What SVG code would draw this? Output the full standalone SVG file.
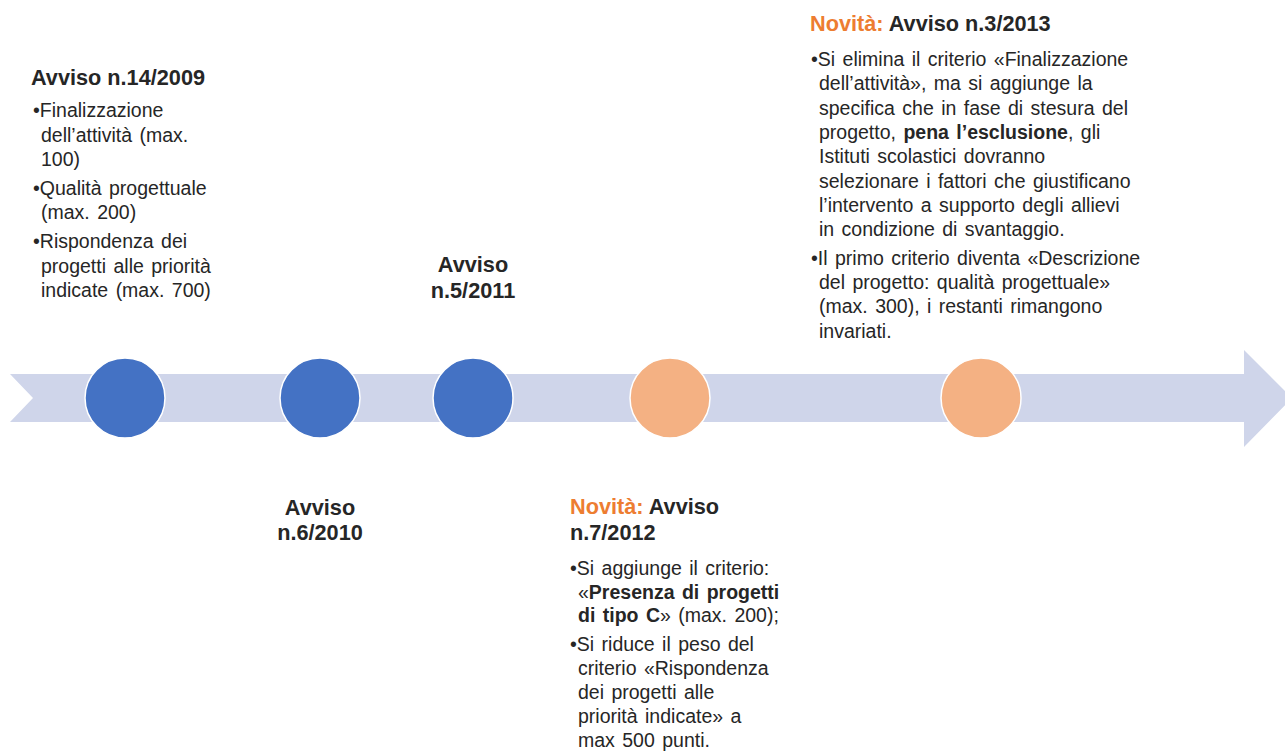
<svg xmlns="http://www.w3.org/2000/svg" width="1285" height="751" viewBox="0 0 1285 751">
<style>
text{font-family:"Liberation Sans",Arial,sans-serif;fill:#262626}
.h{font-size:21.7px;font-weight:bold}
.b{font-size:19.5px;word-spacing:2px}
.o{fill:#ED7D31}
.bd{font-weight:bold}
.blue{fill:#4472C4;stroke:#fff;stroke-width:1.5}
.orange{fill:#F4B183;stroke:#fff;stroke-width:1.5}
</style>
<rect width="1285" height="751" fill="#fff"/>
<g id="timeline">
<polygon points="10,374 1244,374 1244,350 1292,398 1244,447 1244,422 10,422 33,398" fill="#CFD5EA"/>
</g>
<g id="connectors"></g>
<g id="node-2009">
<circle class="blue" cx="125" cy="398" r="40"/>
<text class="h" x="31" y="85">Avviso n.14/2009</text>
<text class="b" x="33" y="117">•Finalizzazione</text>
<text class="b" x="41" y="142">dell’attività (max.</text>
<text class="b" x="41" y="166">100)</text>
<text class="b" x="33" y="195">•Qualità progettuale</text>
<text class="b" x="41" y="219">(max. 200)</text>
<text class="b" x="33" y="248">•Rispondenza dei</text>
<text class="b" x="41" y="273">progetti alle priorità</text>
<text class="b" x="41" y="297">indicate (max. 700)</text>
</g>
<g id="node-2010">
<circle class="blue" cx="320" cy="398" r="40"/>
<text class="h" x="320" y="515" text-anchor="middle">Avviso</text>
<text class="h" x="320" y="540" text-anchor="middle">n.6/2010</text>
</g>
<g id="node-2011">
<circle class="blue" cx="473" cy="398" r="40"/>
<text class="h" x="473" y="272" text-anchor="middle">Avviso</text>
<text class="h" x="473" y="298" text-anchor="middle">n.5/2011</text>
</g>
<g id="node-2012">
<circle class="orange" cx="670" cy="398" r="40"/>
<text class="h" x="570" y="514"><tspan class="o">Novità:</tspan> Avviso</text>
<text class="h" x="570" y="540">n.7/2012</text>
<text class="b" x="570" y="575">•Si aggiunge il criterio:</text>
<text class="b" x="578" y="599">«<tspan class="bd">Presenza di progetti</tspan></text>
<text class="b" x="578" y="622"><tspan class="bd">di tipo C</tspan>» (max. 200);</text>
<text class="b" x="570" y="651">•Si riduce il peso del</text>
<text class="b" x="578" y="675">criterio «Rispondenza</text>
<text class="b" x="578" y="699">dei progetti alle</text>
<text class="b" x="578" y="723">priorità indicate» a</text>
<text class="b" x="578" y="747">max 500 punti.</text>
</g>
<g id="node-2013">
<circle class="orange" cx="981" cy="398" r="40"/>
<text class="h" x="810" y="31"><tspan class="o">Novità:</tspan> Avviso n.3/2013</text>
<text class="b" x="811" y="66">•Si elimina il criterio «Finalizzazione</text>
<text class="b" x="819" y="90">dell’attività», ma si aggiunge la</text>
<text class="b" x="819" y="115">specifica che in fase di stesura del</text>
<text class="b" x="819" y="139">progetto, <tspan class="bd">pena l’esclusione</tspan>, gli</text>
<text class="b" x="819" y="163">Istituti scolastici dovranno</text>
<text class="b" x="819" y="188">selezionare i fattori che giustificano</text>
<text class="b" x="819" y="212">l’intervento a supporto degli allievi</text>
<text class="b" x="819" y="236">in condizione di svantaggio.</text>
<text class="b" x="811" y="265">•Il primo criterio diventa «Descrizione</text>
<text class="b" x="819" y="289">del progetto: qualità progettuale»</text>
<text class="b" x="819" y="313">(max. 300), i restanti rimangono</text>
<text class="b" x="819" y="338">invariati.</text>
</g>
</svg>
